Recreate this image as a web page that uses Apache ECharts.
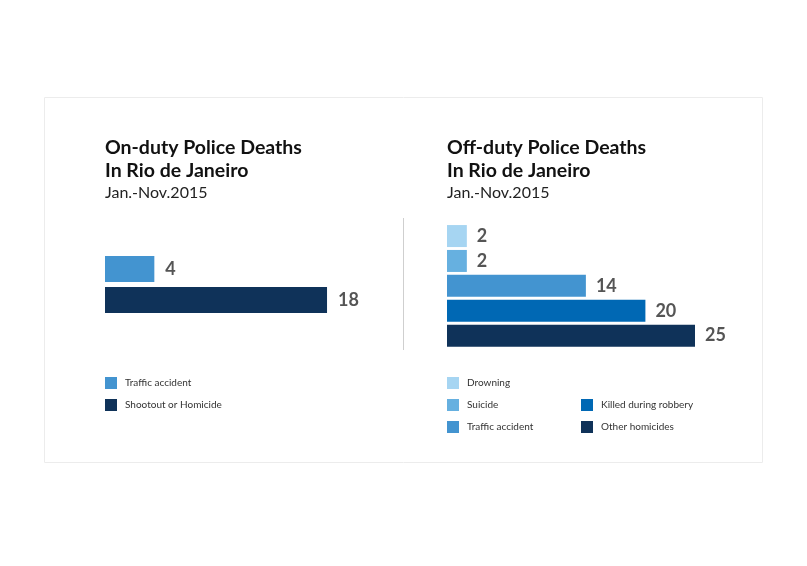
<!DOCTYPE html>
<html><head><meta charset="utf-8">
<script src="https://cdn.jsdelivr.net/npm/echarts@6/dist/echarts.min.js"></script>
<style>html,body{margin:0;padding:0;background:#fff}#c{width:807px;height:566px}</style>
</head><body><div id="c"></div>
<script>
var onCats = ['Traffic accident', 'Shootout or Homicide'];
var onValues = [4, 18];
var onColors = ['#4394d0', '#0f3259'];
var offCats = ['Drowning', 'Suicide', 'Traffic accident', 'Killed during robbery', 'Other homicides'];
var offValues = [2, 2, 14, 20, 25];
var offColors = ['#a6d5f2', '#66b0e0', '#4394d0', '#0068b4', '#0f3259'];

var FONT = 'Lato';
var chart = echarts.init(document.getElementById('c'), null, {renderer: 'canvas'});

function mkSeries(cats, vals, colors, axisIdx, barW, dist) {
  return cats.map(function (name, i) {
    var d = cats.map(function (_, j) { return j === i ? vals[j] : '-'; });
    return {
      type: 'bar', name: name, xAxisIndex: axisIdx, yAxisIndex: axisIdx,
      data: d, barWidth: barW, barGap: '-100%',
      itemStyle: {color: colors[i]},
      label: {show: true, position: 'right', distance: dist, fontFamily: FONT, fontWeight: 'bold', fontSize: 18, color: '#555'},
      emphasis: {disabled: true}, animation: false
    };
  });
}
var legendText = {fontFamily: FONT, fontSize: 10, color: '#333', padding: [0, 0, 0, 3]};
var titleStyle = {fontFamily: FONT, fontSize: 19.5, fontWeight: 'bold', color: '#111', lineHeight: 23};
var subStyle = {fontFamily: FONT, fontSize: 16, color: '#222', lineHeight: 20};
var option = {
  animation: false,
  title: [
    {text: 'On-duty Police Deaths\nIn Rio de Janeiro', subtext: 'Jan.-Nov.2015', left: 100, top: 131, itemGap: 1,
     textStyle: titleStyle, subtextStyle: subStyle},
    {text: 'Off-duty Police Deaths\nIn Rio de Janeiro', subtext: 'Jan.-Nov.2015', left: 442, top: 131, itemGap: 1,
     textStyle: titleStyle, subtextStyle: subStyle}
  ],
  legend: [
    {data: onCats, orient: 'vertical', left: 100, top: 372, itemWidth: 12, itemHeight: 12, itemGap: 10, icon: 'rect', textStyle: legendText, selectedMode: false},
    {data: offCats.slice(0, 3), orient: 'vertical', left: 442, top: 372, itemWidth: 12, itemHeight: 12, itemGap: 10, icon: 'rect', textStyle: legendText, selectedMode: false},
    {data: offCats.slice(3), orient: 'vertical', left: 576, top: 394, itemWidth: 12, itemHeight: 12, itemGap: 10, icon: 'rect', textStyle: legendText, selectedMode: false}
  ],
  grid: [
    {left: 105, top: 253.5, width: 246.7, height: 62},
    {left: 447, top: 223.6, width: 248, height: 124.5}
  ],
  xAxis: [
    {gridIndex: 0, type: 'value', min: 0, max: 20, show: false},
    {gridIndex: 1, type: 'value', min: 0, max: 25, show: false}
  ],
  yAxis: [
    {gridIndex: 0, type: 'category', data: onCats, inverse: true, show: false},
    {gridIndex: 1, type: 'category', data: offCats, inverse: true, show: false}
  ],
  graphic: [
    {type: 'rect', shape: {x: 44.5, y: 97.5, width: 718, height: 365}, style: {fill: 'none', stroke: '#ececec', lineWidth: 1}, silent: true},
    {type: 'line', shape: {x1: 403.5, y1: 218, x2: 403.5, y2: 350}, style: {stroke: '#cfcfcf', lineWidth: 1}, silent: true}
  ],
  series: mkSeries(onCats, onValues, onColors, 0, 26, 11).concat(mkSeries(offCats, offValues, offColors, 1, 22, 10))
};
chart.setOption(option);
</script></body></html>
